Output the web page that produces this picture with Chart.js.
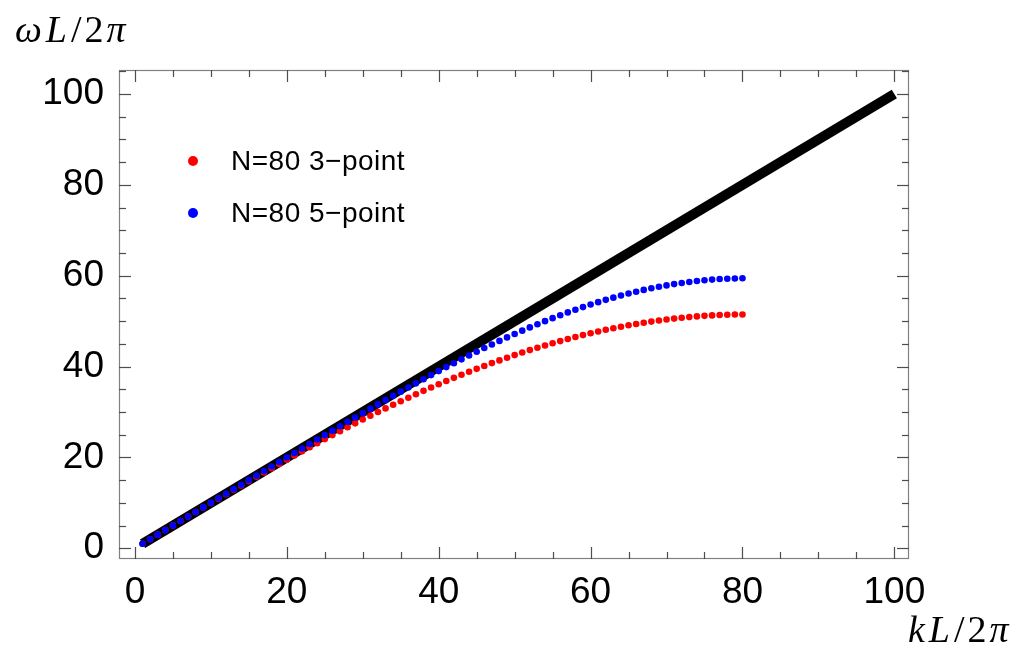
<!DOCTYPE html>
<html><head><meta charset="utf-8">
<script src="https://cdn.jsdelivr.net/npm/chart.js@4.4.0/dist/chart.umd.min.js"></script>
<style>html,body{margin:0;padding:0;background:#fff;}canvas{display:block;}</style>
</head><body>
<canvas id="c" width="1021" height="652"></canvas>
<script>
// ---- data ----
const kValues = [1,2,3,4,5,6,7,8,9,10,11,12,13,14,15,16,17,18,19,20,
  21,22,23,24,25,26,27,28,29,30,31,32,33,34,35,36,37,38,39,40,
  41,42,43,44,45,46,47,48,49,50,51,52,53,54,55,56,57,58,59,60,
  61,62,63,64,65,66,67,68,69,70,71,72,73,74,75,76,77,78,79,80];
const threePoint = [1.00,2.00,3.00,4.00,4.99,5.99,6.98,7.97,8.95,9.94,
  10.92,11.89,12.86,13.83,14.79,15.74,16.69,17.64,18.57,19.50,
  20.42,21.34,22.25,23.14,24.03,24.91,25.78,26.65,27.50,28.34,
  29.17,29.99,30.79,31.59,32.38,33.15,33.91,34.65,35.39,36.11,
  36.82,37.51,38.19,38.85,39.50,40.14,40.76,41.36,41.95,42.52,
  43.08,43.62,44.14,44.65,45.14,45.61,46.07,46.51,46.93,47.33,
  47.72,48.09,48.43,48.77,49.08,49.37,49.65,49.90,50.14,50.36,
  50.56,50.73,50.89,51.04,51.16,51.26,51.34,51.40,51.45,51.47];
const fivePoint = [1.00,2.00,3.00,4.00,5.00,6.00,7.00,8.00,9.00,10.00,
  11.00,12.00,13.00,14.00,15.00,15.99,16.99,17.99,18.98,19.97,
  20.96,21.95,22.94,23.93,24.91,25.89,26.86,27.83,28.80,29.76,
  30.72,31.67,32.61,33.55,34.48,35.40,36.31,37.22,38.12,39.00,
  39.88,40.74,41.59,42.43,43.26,44.07,44.87,45.65,46.42,47.17,
  47.90,48.62,49.32,50.00,50.66,51.30,51.92,52.51,53.09,53.65,
  54.18,54.69,55.17,55.63,56.07,56.48,56.87,57.23,57.56,57.87,
  58.15,58.40,58.63,58.83,59.00,59.14,59.26,59.34,59.40,59.43];
const exactK = [1, 100];
const exactOmega = [1, 100];
const xTickValues = [0, 20, 40, 60, 80, 100];
const yTickValues = [0, 20, 40, 60, 80, 100];
const seriesLabels = ['N=80 3\u2212point', 'N=80 5\u2212point', 'exact'];
const seriesColors = ['rgb(255,0,0)', 'rgb(0,0,255)', '#000000'];

const toPts = (xs, ys) => xs.map((x, i) => ({x: x, y: ys[i]}));

const tickFont = {family: "'Liberation Sans', Arial, sans-serif", size: 37};

const framePlugin = {
  id: 'frameTicks',
  afterDraw(chart) {
    const ctx = chart.ctx, a = chart.chartArea;
    const xs = chart.scales.x, ys = chart.scales.y;
    ctx.save();
    const seg = (x1, y1, x2, y2) => { ctx.beginPath(); ctx.moveTo(x1, y1); ctx.lineTo(x2, y2); ctx.stroke(); };
    // frame
    ctx.strokeStyle = '#808080'; ctx.lineWidth = 1.2;
    ctx.strokeRect(a.left + 0.5, a.top + 0.5, a.right - a.left - 1, a.bottom - a.top - 1);
    // ticks
    ctx.strokeStyle = '#4d4d4d'; ctx.lineWidth = 1.2;
    for (let v = 0; v <= xs.max; v += 5) {
      if (v < xs.min) continue;
      const px = Math.round(xs.getPixelForValue(v)) + 0.5;
      const len = (v % 20 === 0) ? 12 : 7;
      seg(px, a.bottom, px, a.bottom - len);
      seg(px, a.top, px, a.top + len);
    }
    for (let v = 0; v <= ys.max; v += 5) {
      if (v < ys.min) continue;
      const py = Math.round(ys.getPixelForValue(v)) + 0.5;
      const len = (v % 20 === 0) ? 12 : 7;
      seg(a.left, py, a.left + len, py);
      seg(a.right, py, a.right - len, py);
    }
    // legend (inside plot)
    ctx.font = "28px 'Liberation Sans', Arial, sans-serif";
    ctx.textBaseline = 'alphabetic';
    ctx.textAlign = 'left';
    try { ctx.letterSpacing = '0.5px'; } catch (e) {}
    const legendRows = [{i: 0, y: 161}, {i: 1, y: 213}];
    legendRows.forEach(r => {
      ctx.fillStyle = seriesColors[r.i];
      ctx.beginPath(); ctx.arc(193, r.y, 5, 0, Math.PI * 2); ctx.fill();
      ctx.fillStyle = '#000';
      ctx.fillText(chart.data.datasets[r.i].label, 231, r.y + 8.5);
    });
    try { ctx.letterSpacing = '0px'; } catch (e) {}
    // axis titles (math style)
    const drawMath = (parts, x, y) => {
      let cx = x;
      parts.forEach(p => {
        ctx.font = (p[1] ? 'italic ' : '') + "38px 'Liberation Serif', 'DejaVu Serif', serif";
        ctx.fillText(p[0], cx, y);
        cx += ctx.measureText(p[0]).width + (p[2] || 0);
      });
    };
    ctx.fillStyle = '#000';
    drawMath([['\u03c9', true, 4], ['L', true, 4], ['/', false, 3], ['2', false, 3], ['\u03c0', true]], 15, 42);
    drawMath([['k', true, 4], ['L', true, 4], ['/', false, 3], ['2', false, 3], ['\u03c0', true]], 908, 642);
    ctx.restore();
  }
};

new Chart(document.getElementById('c'), {
  type: 'scatter',
  data: {
    datasets: [
      {label: seriesLabels[0], data: toPts(kValues, threePoint), backgroundColor: seriesColors[0],
       borderWidth: 0, pointRadius: 3.3, pointHoverRadius: 3.3, showLine: false, order: 2},
      {label: seriesLabels[1], data: toPts(kValues, fivePoint), backgroundColor: seriesColors[1],
       borderWidth: 0, pointRadius: 3.3, pointHoverRadius: 3.3, showLine: false, order: 1},
      {label: seriesLabels[2], data: toPts(exactK, exactOmega), borderColor: seriesColors[2],
       backgroundColor: seriesColors[2], borderWidth: 10, borderCapStyle: 'butt', pointRadius: 0,
       showLine: true, order: 3}
    ]
  },
  options: {
    responsive: false,
    animation: false,
    layout: {padding: {top: 70, right: 112, left: 0, bottom: 0}},
    plugins: {legend: {display: false}, tooltip: {enabled: false}},
    scales: {
      x: {
        type: 'linear', min: -2.1, max: 101.93,
        grid: {display: false, drawTicks: false}, border: {display: false},
        afterBuildTicks: s => { s.ticks = xTickValues.map(v => ({value: v})); },
        afterFit: s => { s.height = 93; },
        ticks: {font: tickFont, color: '#000', padding: 12, autoSkip: false, maxRotation: 0,
                callback: v => String(v)}
      },
      y: {
        type: 'linear', min: -2.36, max: 105.28,
        grid: {display: false, drawTicks: false}, border: {display: false},
        afterBuildTicks: s => { s.ticks = yTickValues.map(v => ({value: v})); },
        afterFit: s => { s.width = 119; },
        ticks: {font: tickFont, color: '#000', padding: 15, autoSkip: false,
                callback: v => String(v)}
      }
    }
  },
  plugins: [framePlugin]
});
</script>
</body></html>
